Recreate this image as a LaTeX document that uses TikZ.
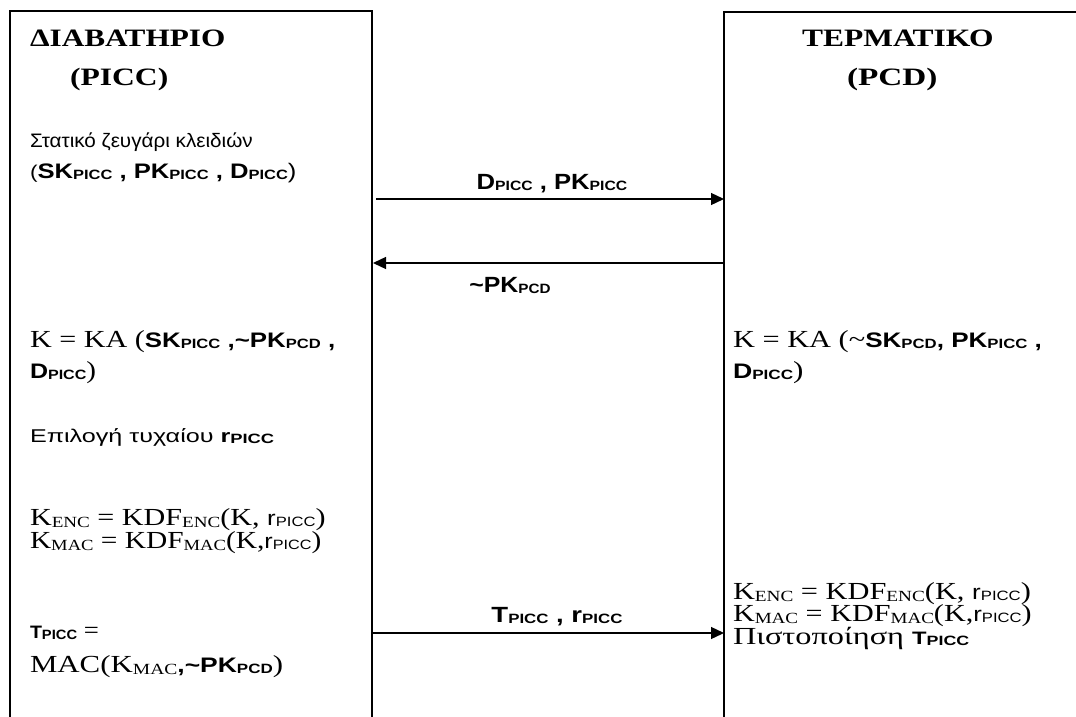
\documentclass[tikz,border=0pt]{standalone}
\usepackage{fontspec}
\usepackage{graphicx}
\setmainfont{Liberation Serif}
\setsansfont{Liberation Sans}
\usetikzlibrary{arrows.meta}
\newcommand\sbf[1]{{\sffamily\bfseries #1}}
\newcommand\bsz{\fontsize{21}{24}\selectfont}
\newcommand\ssb[1]{\raisebox{-1.5pt}{\fontsize{13.5}{14}\selectfont\sffamily\bfseries #1}}
\newcommand\ssr[1]{\raisebox{-1.5pt}{\fontsize{13.5}{14}\selectfont\sffamily #1}}
\newcommand\tsub[1]{\raisebox{-2pt}{\fontsize{15.5}{16}\selectfont #1}}
\newcommand\hs[2]{\scalebox{#1}[1]{#2}}
\begin{document}
\begin{tikzpicture}[x=1pt,y=-1pt,
  txt/.style={anchor=base west,inner sep=0pt,outer sep=0pt,text height=15pt,text depth=3pt},
  title/.style={txt,font=\fontsize{25}{28}\selectfont\bfseries},
  grk/.style={txt,font=\fontsize{18.5}{21}\selectfont\sffamily},
  frm/.style={txt,font=\fontsize{24.5}{28}\selectfont},
  lbl/.style={anchor=base,inner sep=0pt,font=\fontsize{22}{24}\selectfont\sffamily\bfseries},
  boxline/.style={line width=2pt},
  msg/.style={line width=1.3pt,-{Triangle[length=13pt,width=12pt]}}]
\useasboundingbox (0,0) rectangle (1076,717);
% boxes
\coordinate (lbl0) at (10,717); \coordinate (ltl) at (10,11);
\coordinate (ltr) at (372,11); \coordinate (lbr) at (372,717);
\coordinate (rbl) at (724,717); \coordinate (rtl) at (724,12);
\coordinate (rtr) at (1077,12);
\draw[boxline] (lbl0) -- (ltl) -- (ltr) -- (lbr);
\draw[boxline] (rbl) -- (rtl) -- (rtr);
% titles
\node[title] (t1) at (30,47) {\hs{1.25}{ΔΙΑΒΑΤΗΡΙΟ}};
\node[title] (t2) at (70,85) {\hs{1.264}{(PICC)}};
\node[title] (t3) at (802,47) {\hs{1.26}{ΤΕΡΜΑΤΙΚΟ}};
\node[title] (t4) at (847,85) {\hs{1.33}{(PCD)}};
% left texts
\node[grk,font=\fontsize{19.5}{22}\selectfont\sffamily] (l1) at (30,147) {\hs{1.06}{Στατικό ζευγάρι κλειδιών}};
\node[grk] (l2) at (30,178) {\hs{1.22}{(\bsz\sbf{SK\ssb{PICC} , PK\ssb{PICC} , D\ssb{PICC}})}};
\node[frm] (l3) at (30,347) {\hs{1.23}{K = KA (\bsz\sbf{SK\ssb{PICC} ,\textasciitilde PK\ssb{PCD} ,}}};
\node[frm] (l4) at (30,378) {\hs{1.19}{{\bsz\sbf{D\ssb{PICC}}})}};
\node[grk] (l5) at (30,442) {\hs{1.36}{Επιλογή τυχαίου \sbf{r\ssb{PICC}}}};
\node[frm] (l6) at (30,525) {\hs{1.23}{K\tsub{ENC} = KDF\tsub{ENC}(K, {\bsz\sffamily r\ssr{PICC}})}};
\node[frm] (l7) at (30,548) {\hs{1.2}{K\tsub{MAC} = KDF\tsub{MAC}(K,{\bsz\sffamily r\ssr{PICC}})}};
\node[frm] (l8) at (30,638) {\hs{1.09}{{\fontsize{18}{21}\selectfont\sbf{T\ssb{PICC}}} =}};
\node[frm] (l9) at (30,672) {\hs{1.26}{MAC(K\tsub{MAC}{\bsz\sbf{,\textasciitilde PK\ssb{PCD}}})}};
% right texts
\node[frm] (r1) at (733,347) {\hs{1.24}{K = KA (\textasciitilde{\bsz\sbf{SK\ssb{PCD}, PK\ssb{PICC} ,}}}};
\node[frm] (r2) at (733,378) {\hs{1.27}{{\bsz\sbf{D\ssb{PICC}}})}};
\node[frm] (r3) at (733,599) {\hs{1.24}{K\tsub{ENC} = KDF\tsub{ENC}(K, {\bsz\sffamily r\ssr{PICC}})}};
\node[frm] (r4) at (733,621) {\hs{1.23}{K\tsub{MAC} = KDF\tsub{MAC}(K,{\bsz\sffamily r\ssr{PICC}})}};
\node[frm] (r5) at (733,644) {\hs{1.32}{Πιστοποίηση {\fontsize{18}{21}\selectfont\sbf{T\ssb{PICC}}}}};
% messages
\coordinate (m1a) at (376,199); \coordinate (m1b) at (724,199);
\coordinate (m2a) at (724,263); \coordinate (m2b) at (373,263);
\coordinate (m3a) at (372,633); \coordinate (m3b) at (724,633);
\draw[msg] (m1a) -- (m1b);
\draw[msg] (m2a) -- (m2b);
\draw[msg] (m3a) -- (m3b);
\node[lbl] (ml1) at (552,189) {\hs{1.165}{D\ssb{PICC} , PK\ssb{PICC}}};
\node[lbl] (ml2) at (510,292) {\hs{1.13}{\textasciitilde PK\ssb{PCD}}};
\node[lbl] (ml3) at (557,622) {\hs{1.25}{T\ssb{PICC} , r\ssb{PICC}}};
\end{tikzpicture}
\end{document}
